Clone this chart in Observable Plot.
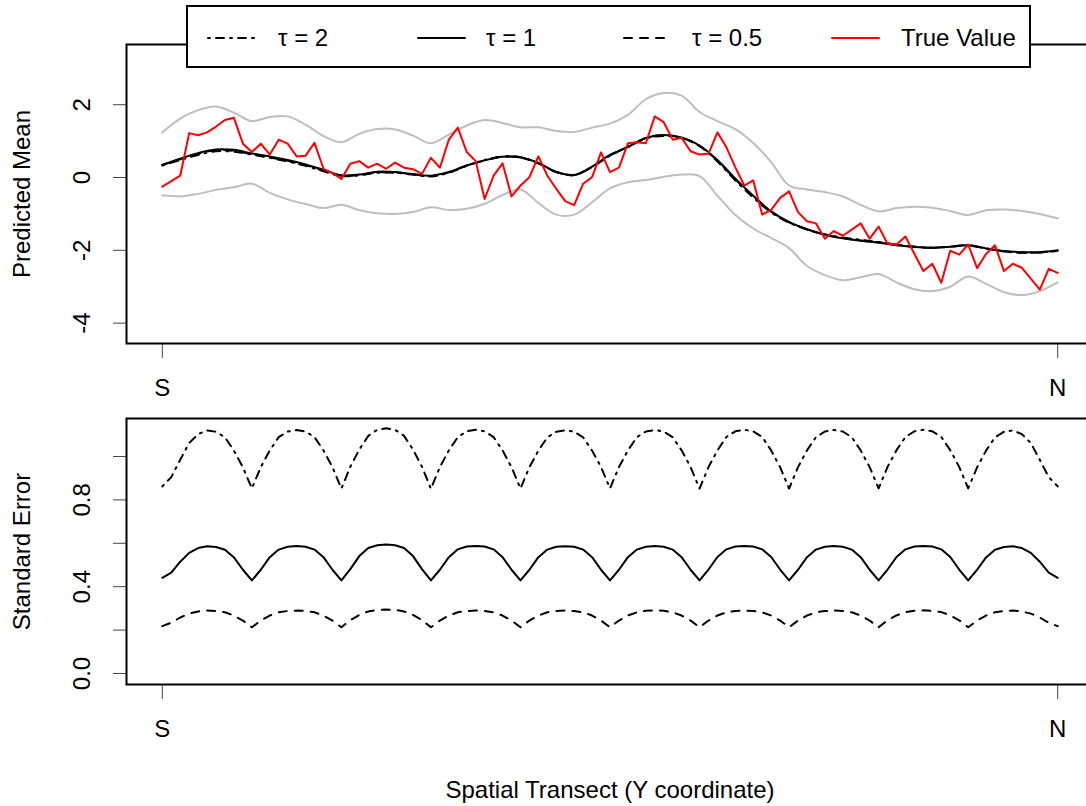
<!DOCTYPE html>
<html><head><meta charset="utf-8">
<script src="https://cdn.jsdelivr.net/npm/d3@7"></script>
<script src="https://cdn.jsdelivr.net/npm/@observablehq/plot@0.6"></script>
<style>
html,body{margin:0;padding:0;background:#fff;overflow:hidden;width:1086px;height:806px;}
#wrap{position:relative;width:1086px;height:806px;overflow:hidden;font-family:"Liberation Sans",Arial,Helvetica,sans-serif;}
#p1{position:absolute;left:0;top:0;width:1093px;}
#p2{position:absolute;left:0;top:400px;width:1093px;}
#p1 svg,#p2 svg{max-width:none !important;}
#legend{position:absolute;left:186px;top:5px;}
</style></head><body><div id="wrap"><div id="p1"></div><div id="p2"></div><div id="legend"></div></div>
<script>
// ---------- DATA ----------
const xTickPos = [0, 100];
const xTickLabels = ["S", "N"];
const meanTicks = [-4, -2, 0, 2];
const seTicks = [0, 0.2, 0.4, 0.6, 0.8, 1.0];
const seLabelTicks = [0, 0.4, 0.8];
const seriesNames = ["τ = 2", "τ = 1", "τ = 0.5", "True Value"];

// True value at 101 transect points (S -> N)
const trueValue = [-0.25,-0.10,0.05,1.22,1.16,1.24,1.40,1.58,1.64,0.93,
  0.70,0.93,0.63,1.04,0.93,0.58,0.60,0.95,0.24,0.12,
  -0.04,0.38,0.45,0.27,0.38,0.24,0.41,0.27,0.23,0.10,
  0.54,0.27,1.04,1.37,0.70,0.45,-0.59,0.05,0.39,-0.52,
  -0.22,0.01,0.58,0.05,-0.31,-0.65,-0.76,-0.17,0.01,0.69,
  0.15,0.27,0.94,0.97,0.94,1.68,1.52,1.04,1.09,0.72,
  0.63,0.65,1.24,0.83,0.28,-0.22,-0.08,-1.02,-0.89,-0.56,
  -0.38,-0.95,-1.20,-1.26,-1.68,-1.47,-1.60,-1.43,-1.26,-1.68,
  -1.35,-1.82,-1.84,-1.62,-2.10,-2.57,-2.37,-2.89,-2.01,-2.12,
  -1.84,-2.49,-2.10,-1.86,-2.57,-2.37,-2.48,-2.78,-3.08,-2.51,-2.62];

// Predicted means and band at every second transect point
const meanTau1 = [0.35,0.52,0.67,0.77,0.76,0.66,0.58,0.48,0.36,0.21,
  0.06,0.08,0.16,0.15,0.09,0.05,0.15,0.33,0.47,0.57,
  0.55,0.40,0.15,0.07,0.30,0.62,0.84,1.09,1.17,1.10,
  0.88,0.48,-0.03,-0.50,-0.93,-1.22,-1.42,-1.57,-1.67,-1.74,
  -1.79,-1.86,-1.91,-1.93,-1.90,-1.86,-1.95,-2.02,-2.05,-2.05,-2.00];
const meanTau2 = [0.33,0.48,0.62,0.72,0.71,0.63,0.54,0.44,0.32,0.17,
  0.04,0.06,0.13,0.13,0.08,0.03,0.13,0.32,0.48,0.58,
  0.56,0.39,0.15,0.07,0.29,0.60,0.84,1.07,1.14,1.08,
  0.86,0.44,-0.08,-0.55,-0.96,-1.24,-1.43,-1.56,-1.65,-1.71,
  -1.77,-1.84,-1.90,-1.93,-1.90,-1.87,-1.95,-2.03,-2.07,-2.06,-2.01];
const meanTau05 = [0.34,0.50,0.65,0.75,0.73,0.64,0.55,0.46,0.34,0.19,
  0.05,0.07,0.14,0.14,0.09,0.04,0.14,0.33,0.47,0.57,
  0.55,0.39,0.15,0.07,0.29,0.61,0.84,1.08,1.16,1.09,
  0.87,0.46,-0.05,-0.52,-0.94,-1.23,-1.42,-1.57,-1.66,-1.73,
  -1.78,-1.85,-1.90,-1.93,-1.90,-1.86,-1.95,-2.03,-2.06,-2.06,-2.01];
const bandUpper = [1.24,1.62,1.85,1.95,1.78,1.55,1.66,1.68,1.45,1.14,
  0.97,1.20,1.33,1.32,1.15,0.94,1.18,1.43,1.58,1.50,
  1.38,1.38,1.28,1.25,1.37,1.48,1.72,2.15,2.32,2.25,
  1.80,1.55,1.33,0.95,0.42,-0.22,-0.33,-0.40,-0.52,-0.75,
  -0.93,-0.84,-0.80,-0.83,-0.92,-1.03,-0.90,-0.88,-0.92,-1.00,-1.12];
const bandLower = [-0.49,-0.52,-0.45,-0.34,-0.27,-0.17,-0.42,-0.60,-0.73,-0.84,
  -0.75,-0.90,-0.98,-1.00,-0.95,-0.82,-0.89,-0.86,-0.72,-0.48,
  -0.33,-0.70,-1.02,-1.02,-0.68,-0.30,-0.13,-0.07,0.02,0.08,
  0.04,-0.50,-1.03,-1.40,-1.66,-1.94,-2.43,-2.68,-2.82,-2.74,
  -2.65,-2.88,-3.07,-3.12,-3.00,-2.72,-2.92,-3.15,-3.23,-3.12,-2.88];

// Standard errors at 101 transect points
const seTau2 = [0.862,0.905,0.985,1.062,1.103,1.120,1.114,1.088,1.027,0.950,
  0.853,0.951,1.028,1.089,1.115,1.122,1.115,1.089,1.028,0.951,
  0.852,0.953,1.032,1.095,1.123,1.130,1.123,1.095,1.032,0.953,
  0.851,0.951,1.028,1.089,1.116,1.123,1.116,1.089,1.028,0.951,
  0.852,0.951,1.027,1.088,1.114,1.121,1.114,1.088,1.027,0.951,
  0.853,0.951,1.028,1.089,1.115,1.122,1.115,1.089,1.028,0.951,
  0.852,0.951,1.028,1.090,1.116,1.123,1.116,1.090,1.028,0.951,
  0.852,0.951,1.028,1.089,1.115,1.122,1.115,1.089,1.028,0.951,
  0.853,0.952,1.029,1.090,1.116,1.123,1.116,1.090,1.029,0.952,
  0.853,0.950,1.027,1.088,1.114,1.120,1.103,1.062,0.985,0.905,0.862];
const seTau1 = [0.441,0.465,0.515,0.556,0.578,0.586,0.583,0.570,0.535,0.478,
  0.429,0.478,0.536,0.571,0.584,0.587,0.584,0.571,0.536,0.478,
  0.429,0.481,0.541,0.578,0.591,0.594,0.591,0.578,0.541,0.481,
  0.429,0.478,0.536,0.572,0.585,0.587,0.585,0.572,0.536,0.478,
  0.429,0.478,0.536,0.571,0.584,0.586,0.584,0.571,0.536,0.478,
  0.429,0.478,0.536,0.571,0.584,0.587,0.584,0.571,0.536,0.478,
  0.429,0.479,0.537,0.572,0.585,0.588,0.585,0.572,0.537,0.479,
  0.429,0.478,0.536,0.571,0.584,0.587,0.584,0.571,0.536,0.478,
  0.429,0.479,0.537,0.572,0.585,0.588,0.585,0.572,0.537,0.479,
  0.429,0.478,0.535,0.570,0.583,0.586,0.578,0.556,0.515,0.465,0.441];
const seTau05 = [0.218,0.234,0.258,0.276,0.286,0.290,0.288,0.282,0.267,0.244,
  0.213,0.244,0.267,0.282,0.288,0.290,0.288,0.282,0.267,0.244,
  0.213,0.246,0.270,0.286,0.293,0.295,0.293,0.286,0.270,0.246,
  0.213,0.244,0.267,0.282,0.288,0.290,0.288,0.282,0.267,0.244,
  0.213,0.244,0.267,0.282,0.288,0.290,0.288,0.282,0.267,0.244,
  0.213,0.244,0.267,0.282,0.289,0.291,0.289,0.282,0.267,0.244,
  0.213,0.244,0.267,0.282,0.288,0.290,0.288,0.282,0.267,0.244,
  0.213,0.244,0.267,0.282,0.288,0.290,0.288,0.282,0.267,0.244,
  0.213,0.245,0.268,0.283,0.289,0.291,0.289,0.283,0.268,0.245,
  0.213,0.244,0.267,0.282,0.288,0.290,0.286,0.276,0.258,0.234,0.218];

// ---------- STYLE ----------
const FONT = "Liberation Sans, Arial, Helvetica, sans-serif";
const dashTau2 = "2,6,8,6";
const dashTau05 = "8,8";
const lineStyles = [
  {stroke: "black", dash: dashTau2},
  {stroke: "black", dash: null},
  {stroke: "black", dash: dashTau05},
  {stroke: "red", dash: null}
];

const finePos = d3.range(trueValue.length);
const coarsePos = d3.range(0, trueValue.length, 2);
const rows = (pos, vals) => pos.map((p, k) => ({p, v: vals[k]}));
const xDomain = [-4, 104];
const fmtX = d => xTickLabels[xTickPos.indexOf(d)];

function line(data, st, extra = {}) {
  return Plot.line(data, {x: "p", y: "v", stroke: st.stroke, strokeWidth: 2,
    strokeDasharray: st.dash || undefined, ...extra});
}

// ---------- PANEL 1 ----------
const p1 = Plot.plot({
  width: 1093, height: 400,
  marginLeft: 126, marginRight: 0, marginTop: 44, marginBottom: 57,
  x: {domain: xDomain, label: null},
  y: {domain: [-4.56, 3.654], label: null},
  style: {fontFamily: FONT, fontSize: "24px", background: "white", color: "black", maxWidth: "none"},
  marks: [
    Plot.axisY({ticks: meanTicks, tickSize: 13, tickFormat: () => "", stroke: "#444", label: null}),
    Plot.text(meanTicks, {x: xDomain[0], y: d => d, text: d => String(d), rotate: -90,
      dx: -44, textAnchor: "middle", lineAnchor: "middle", fontSize: 24}),
    Plot.axisX({ticks: xTickPos, tickSize: 15, tickPadding: 20, tickFormat: fmtX, stroke: "#444", fontSize: 24, label: null}),
    Plot.text(["Predicted Mean"], {frameAnchor: "left", text: d => d, rotate: -90, dx: -104,
      textAnchor: "middle", lineAnchor: "middle", fontSize: 24}),
    line(rows(coarsePos, bandUpper), {stroke: "#bebebe"}, {curve: "catmull-rom"}),
    line(rows(coarsePos, bandLower), {stroke: "#bebebe"}, {curve: "catmull-rom"}),
    line(rows(coarsePos, meanTau2), lineStyles[0], {curve: "catmull-rom"}),
    line(rows(coarsePos, meanTau05), lineStyles[2], {curve: "catmull-rom"}),
    line(rows(coarsePos, meanTau1), lineStyles[1], {curve: "catmull-rom"}),
    line(rows(finePos, trueValue), lineStyles[3]),
    Plot.frame({stroke: "black", strokeWidth: 2})
  ]
});
document.getElementById("p1").appendChild(p1);

// ---------- PANEL 2 ----------
const p2 = Plot.plot({
  width: 1093, height: 406,
  marginLeft: 126, marginRight: 0, marginTop: 18, marginBottom: 122,
  x: {domain: xDomain, label: null},
  y: {domain: [-0.0507, 1.175], label: null},
  style: {fontFamily: FONT, fontSize: "24px", background: "white", color: "black", maxWidth: "none"},
  marks: [
    Plot.axisY({ticks: seTicks, tickSize: 13, tickFormat: () => "", stroke: "#444", label: null}),
    Plot.text(seLabelTicks, {x: xDomain[0], y: d => d, text: d => d3.format(".1f")(d), rotate: -90,
      dx: -44, textAnchor: "middle", lineAnchor: "middle", fontSize: 24}),
    Plot.axisX({ticks: xTickPos, tickSize: 15, tickPadding: 20, tickFormat: fmtX, stroke: "#444", fontSize: 24, label: null}),
    Plot.text(["Standard Error"], {frameAnchor: "left", text: d => d, rotate: -90, dx: -104,
      textAnchor: "middle", lineAnchor: "middle", fontSize: 24}),
    Plot.text(["Spatial Transect (Y coordinate)"], {frameAnchor: "bottom", text: d => d, dy: 106,
      textAnchor: "middle", lineAnchor: "middle", fontSize: 24}),
    line(rows(finePos, seTau2), lineStyles[0]),
    line(rows(finePos, seTau1), lineStyles[1]),
    line(rows(finePos, seTau05), lineStyles[2]),
    Plot.frame({stroke: "black", strokeWidth: 2})
  ]
});
document.getElementById("p2").appendChild(p2);

// ---------- LEGEND ----------
const legendSymX = [22, 232, 438, 646];
const legendTextX = [92, 300, 506, 715];
const lg = d3.select("#legend").append("svg").attr("width", 846).attr("height", 64)
  .style("font-family", FONT);
lg.append("rect").attr("x", 1).attr("y", 1).attr("width", 843).attr("height", 61)
  .attr("fill", "white").attr("stroke", "black").attr("stroke-width", 2);
seriesNames.forEach((name, k) => {
  const st = lineStyles[k];
  lg.append("line").attr("x1", legendSymX[k]).attr("x2", legendSymX[k] + 47)
    .attr("y1", 33).attr("y2", 33).attr("stroke", st.stroke).attr("stroke-width", 2)
    .attr("stroke-linecap", "round")
    .attr("stroke-dasharray", st.dash || null);
  lg.append("text").attr("x", legendTextX[k]).attr("y", 33).attr("dy", "0.35em")
    .attr("font-size", 24).attr("fill", "black").text(name);
});
</script></body></html>
